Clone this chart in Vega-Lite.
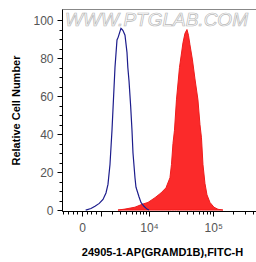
{
  "$schema": "https://vega.github.io/schema/vega-lite/v6.json",
  "width": 200,
  "height": 202,
  "autosize": {"type": "none"},
  "padding": {"left": 62, "top": 9, "right": 0, "bottom": 51},
  "background": "white",
  "config": {"view": {"stroke": "#888888", "strokeWidth": 1}, "font": "Liberation Sans"},
  "datasets": {
    "blue": [
      {"fl": 150, "count": 0}, {"fl": 400, "count": 0.8}, {"fl": 626, "count": 2}, {"fl": 900, "count": 3.5},
      {"fl": 1176, "count": 5.6}, {"fl": 1423, "count": 9}, {"fl": 1603, "count": 13.5}, {"fl": 1797, "count": 24},
      {"fl": 2004, "count": 42}, {"fl": 2342, "count": 75}, {"fl": 2589, "count": 89.5}, {"fl": 2750, "count": 91},
      {"fl": 2990, "count": 94}, {"fl": 3133, "count": 95.6}, {"fl": 3300, "count": 95}, {"fl": 3435, "count": 94.5},
      {"fl": 3760, "count": 92}, {"fl": 4104, "count": 83}, {"fl": 4260, "count": 75}, {"fl": 4480, "count": 68},
      {"fl": 4800, "count": 55}, {"fl": 5083, "count": 42}, {"fl": 5302, "count": 30}, {"fl": 5755, "count": 17},
      {"fl": 5996, "count": 12}, {"fl": 6768, "count": 7}, {"fl": 7325, "count": 4}, {"fl": 8245, "count": 2},
      {"fl": 9264, "count": 0.5}, {"fl": 10000, "count": 0}
    ],
    "red": [
      {"fl": 2717, "count": 0}, {"fl": 3760, "count": 0.5}, {"fl": 5755, "count": 1.5}, {"fl": 7625, "count": 3},
      {"fl": 9623, "count": 4}, {"fl": 12540, "count": 6.5}, {"fl": 15670, "count": 9}, {"fl": 18820, "count": 11.7},
      {"fl": 21740, "count": 17}, {"fl": 22960, "count": 24}, {"fl": 24230, "count": 35}, {"fl": 25580, "count": 42},
      {"fl": 27460, "count": 58}, {"fl": 30580, "count": 75}, {"fl": 34620, "count": 88}, {"fl": 37180, "count": 93},
      {"fl": 39890, "count": 95}, {"fl": 42070, "count": 92}, {"fl": 44320, "count": 87}, {"fl": 48420, "count": 79},
      {"fl": 52840, "count": 69}, {"fl": 58700, "count": 58}, {"fl": 62980, "count": 45}, {"fl": 66390, "count": 38},
      {"fl": 69930, "count": 24}, {"fl": 74990, "count": 14}, {"fl": 80430, "count": 8}, {"fl": 89330, "count": 4},
      {"fl": 102500, "count": 1.5}, {"fl": 117900, "count": 0.4}, {"fl": 140100, "count": 0}
    ],
    "mark": [{"label": "WWW.PTGLAB.COM"}]
  },
  "resolve": {"axis": {"x": "independent", "y": "independent"}},
  "layer": [
    {
      "data": {"name": "mark"},
      "mark": {"type": "text", "align": "left", "baseline": "middle", "fontSize": 19, "fontStyle": "italic", "fill": "#ffffff", "stroke": "#b8b8b8", "strokeWidth": 0.7, "font": "Liberation Sans"},
      "encoding": {
        "x": {"datum": -880, "type": "quantitative",
          "scale": {"type": "symlog", "constant": 1111, "domain": [-1098, 539500], "nice": false, "zero": false},
          "axis": {
            "orient": "bottom",
            "values": [-1000, -700, -400, -200, 200, 400, 700, 2000, 3000, 4000, 5000, 6000, 7000, 8000, 9000, 20000, 30000, 40000, 50000, 60000, 70000, 80000, 90000, 200000, 300000, 400000, 500000],
            "labels": false, "domain": false, "tickSize": 3, "tickColor": "#000000", "grid": false, "title": null
          }
        },
        "y": {"datum": 100, "type": "quantitative",
          "scale": {"domain": [-0.5, 105.8], "nice": false, "zero": false},
          "axis": {
            "orient": "left",
            "values": [5, 10, 15, 25, 30, 35, 45, 50, 55, 65, 70, 75, 85, 90, 95],
            "labels": false, "domain": false, "tickSize": 3, "tickColor": "#000000", "grid": false, "title": null
          }
        },
        "text": {"field": "label"}
      }
    },
    {
      "data": {"name": "red"},
      "mark": {"type": "area", "color": "#fb2a2a", "stroke": "#ee1c1c", "strokeWidth": 1},
      "encoding": {
        "x": {
          "field": "fl", "type": "quantitative",
          "axis": {
            "orient": "bottom",
            "offset": 0,
            "values": [0, 1000, 10000, 100000],
            "labelExpr": "datum.value === 0 ? '0' : datum.value === 10000 ? '10⁴' : datum.value === 100000 ? '10⁵' : ''",
            "tickSize": 5,
            "grid": false, "domainColor": "#000000", "tickColor": "#000000", "labelColor": "#555555",
            "labelFontSize": 12, "labelPadding": 6, "labelBaseline": "top", "labelOverlap": false, "labelBound": false, "labelFlush": false,
            "title": "24905-1-AP(GRAMD1B),FITC-H", "titleFontSize": 11, "titleFontWeight": "bold", "titleColor": "#000000", "titlePadding": 13
          }
        },
        "y": {
          "field": "count", "type": "quantitative",
          "axis": {
            "orient": "left",
            "offset": 0,
            "values": [0, 20, 40, 60, 80, 100],
            "tickSize": 5,
            "grid": false, "domainColor": "#000000", "tickColor": "#000000", "labelColor": "#555555",
            "labelFontSize": 12, "labelPadding": 4, "labelOverlap": false, "labelBound": false,
            "title": "Relative Cell Number", "titleFontSize": 11, "titleFontWeight": "bold", "titleColor": "#000000", "titlePadding": 11
          }
        }
      }
    },
    {
      "data": {"name": "blue"},
      "mark": {"type": "line", "color": "#1c1c8c", "strokeWidth": 1.2},
      "encoding": {
        "x": {"field": "fl", "type": "quantitative", "axis": null},
        "y": {"field": "count", "type": "quantitative", "axis": null}
      }
    }
  ]
}
